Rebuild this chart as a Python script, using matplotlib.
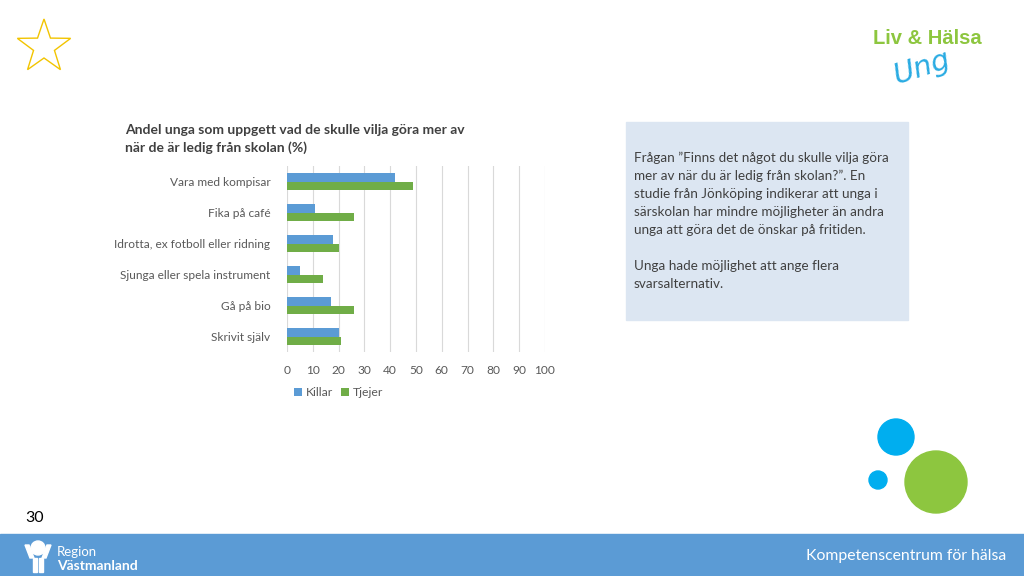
import matplotlib.pyplot as plt
import matplotlib.patches as mpatches
import numpy as np

plt.rcParams['font.family'] = ['Lato', 'DejaVu Sans']

categories = ['Vara med kompisar', 'Fika på café', 'Idrotta, ex fotboll eller ridning',
              'Sjunga eller spela instrument', 'Gå på bio', 'Skrivit själv']
killar = [42, 11, 18, 5, 17, 20]
tjejer = [49, 26, 20, 14, 26, 21]
xticks = list(range(0, 101, 10))

W, H = 1024, 576
fig = plt.figure(figsize=(W / 100, H / 100), dpi=100)


def fx(x):
    return x / W


def fy(y):
    return 1 - y / H


# chart
ax = fig.add_axes([fx(287), fy(352), fx(545) - fx(287), fy(166) - fy(352)])
y = np.arange(len(categories))
h = 0.27
ax.barh(y - h / 2, killar, height=h, color='#5B9BD5', label='Killar', zorder=3)
ax.barh(y + h / 2, tjejer, height=h, color='#70AD47', label='Tjejer', zorder=3)
ax.set_ylim(len(categories) - 0.5, -0.5)
ax.set_xlim(0, 100)
ax.set_xticks(xticks)
ax.set_yticks(y)
ax.set_yticklabels(categories)
ax.tick_params(axis='both', length=0, labelsize=8.6, colors='#595959')
ax.tick_params(axis='y', pad=12)
ax.tick_params(axis='x', pad=9)
ax.grid(axis='x', color='#D9D9D9', linewidth=0.8, zorder=0)
for s in ax.spines.values():
    s.set_visible(False)
leg = ax.legend(loc='upper center', bbox_to_anchor=(0.2, -0.13), ncol=2, frameon=False,
                fontsize=8.8, handlelength=0.7, handleheight=0.7, columnspacing=0.6,
                handletextpad=0.3, labelcolor='#595959')

fig.text(fx(125), fy(130), 'Andel unga som uppgett vad de skulle vilja göra mer av',
         fontsize=10, fontweight='bold', color='#404040', va='center')
fig.text(fx(125), fy(148), 'när de är ledig från skolan (%)',
         fontsize=10, fontweight='bold', color='#404040', va='center')

# info box
fig.patches.append(mpatches.Rectangle((fx(626), fy(320)), fx(908) - fx(626), fy(122) - fy(320),
                                      transform=fig.transFigure, color='#DCE6F2', zorder=0))
lines = ['Frågan ”Finns det något du skulle vilja göra', 'mer av när du är ledig från skolan?”. En',
         'studie från Jönköping indikerar att unga i', 'särskolan har mindre möjligheter än andra',
         'unga att göra det de önskar på fritiden.', '', 'Unga hade möjlighet att ange flera',
         'svarsalternativ.']
for i, t in enumerate(lines):
    fig.text(fx(634), fy(158 + 18 * i), t, fontsize=9.7, color='#404040', va='center')

# star
ang = np.pi / 2 + np.arange(10) * np.pi / 5
rad = np.where(np.arange(10) % 2 == 0, 28, 11)
sx = 44 + rad * np.cos(ang)
sy = 47 - rad * np.sin(ang)
fig.patches.append(mpatches.Polygon(np.column_stack([fx(sx), fy(sy)]), closed=True, fill=False,
                                    edgecolor='#F2C400', linewidth=1.0, transform=fig.transFigure))

# logo top right
fig.text(fx(927), fy(39), 'Liv & Hälsa', fontsize=14.5, fontweight='bold', color='#8DC63F',
         ha='center', va='center', family=['Liberation Sans'])
fig.text(fx(922), fy(68), 'Ung', fontsize=21, color='#29ABE2', ha='center', va='center',
         rotation=18, style='italic', family=['DejaVu Sans'], fontweight='light')

# circles
for cx, cy, r, c in [(896, 437, 18, '#00AEEF'), (878, 480, 9, '#00AEEF'), (936, 482, 31, '#8DC63F')]:
    fig.patches.append(mpatches.Ellipse((fx(cx), fy(cy)), 2 * r / W, 2 * r / H, color=c,
                                        transform=fig.transFigure))

# footer
fig.patches.append(mpatches.Rectangle((0, 0), 1, fy(534), transform=fig.transFigure,
                                      color='#5B9BD5', zorder=0))
fig.text(fx(35), fy(518), '30', fontsize=11.5, color='black', ha='center', va='center')
fig.text(fx(1006), fy(556), 'Kompetenscentrum för hälsa', fontsize=11.3, color='white',
         ha='right', va='center')
fig.patches.append(mpatches.Ellipse((fx(38), fy(548)), 14 / W, 14 / H, color='white',
                                    transform=fig.transFigure))
fig.patches.append(mpatches.Polygon([(fx(25), fy(545)), (fx(29), fy(545)), (fx(34), fy(558)),
                                     (fx(30), fy(558))], color='white', transform=fig.transFigure))
fig.patches.append(mpatches.Polygon([(fx(47), fy(545)), (fx(51), fy(545)), (fx(46), fy(558)),
                                     (fx(42), fy(558))], color='white', transform=fig.transFigure))
fig.patches.append(mpatches.Rectangle((fx(33), fy(572)), 4 / W, 14 / H, color='white',
                                      transform=fig.transFigure))
fig.patches.append(mpatches.Rectangle((fx(39), fy(572)), 4 / W, 14 / H, color='white',
                                      transform=fig.transFigure))
fig.text(fx(57), fy(552), 'Region', fontsize=9.5, color='white', va='center')
fig.text(fx(57), fy(566), 'Västmanland', fontsize=10, color='white', va='center',
         fontweight='bold')

fig.savefig('out.png', dpi=100)
